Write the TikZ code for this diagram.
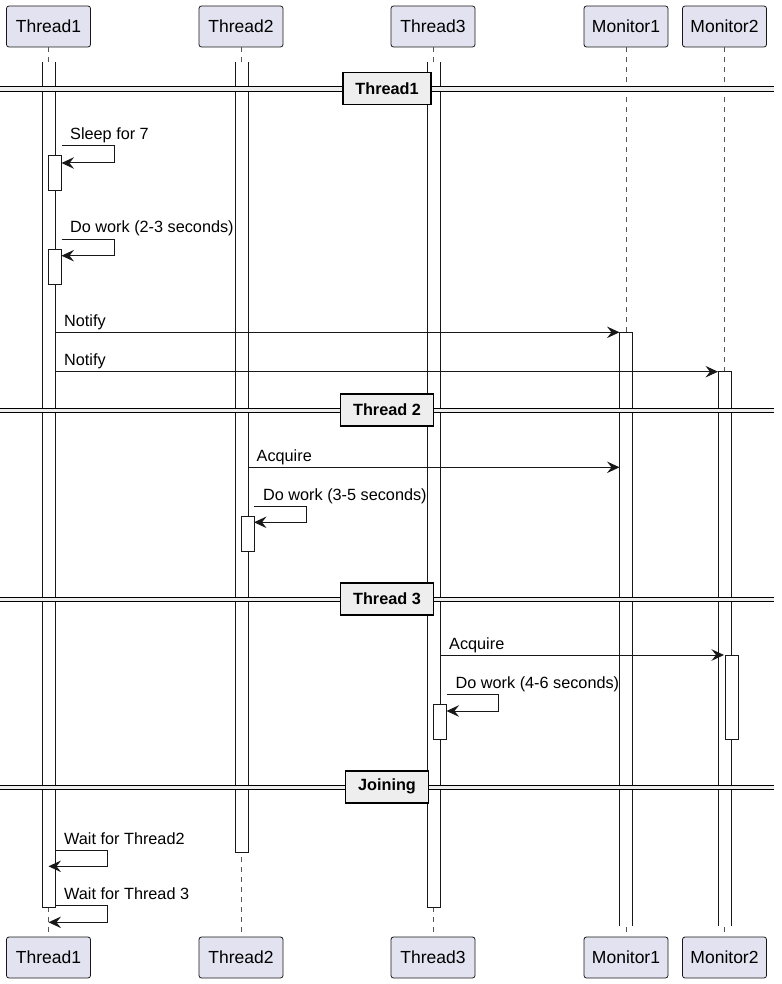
\documentclass[tikz,border=0pt]{standalone}
\usepackage{fontspec}
\setmainfont{Liberation Sans}
\usetikzlibrary{arrows.meta}
\definecolor{ln}{HTML}{181818}
\definecolor{pfill}{HTML}{E2E2F0}
\definecolor{sepfill}{HTML}{EEEEEE}
\definecolor{dashc}{HTML}{555555}
\newcommand{\plsep}[3]{%
  \fill[sepfill] (0,#2-2.3) rectangle (774,#2+2.3);
  \draw[line width=1pt] (0,#2-2.3) -- (774,#2-2.3) (0,#2+2.3) -- (774,#2+2.3);
  \node[sepbox] (#1) at (387,#2-0.6) {#3};}
% bar open at the top: x1, y1, x2, y2
\newcommand{\opentopbar}[4]{%
  \fill[white] (#1,#2) rectangle (#3,#4);
  \draw[actline] (#1,#2) -- (#1,#4) -- (#3,#4) -- (#3,#2);}
% bar open at the bottom
\newcommand{\openbotbar}[4]{%
  \fill[white] (#1,#2) rectangle (#3,#4);
  \draw[actline] (#1,#4) -- (#1,#2) -- (#3,#2) -- (#3,#4);}
\begin{document}
\begin{tikzpicture}[x=1pt,y=-1pt,
  part/.style={draw=ln, fill=pfill, rounded corners=2.5pt, line width=0.8pt,
    minimum width=84pt, minimum height=41pt, inner sep=0pt,
    font=\fontsize{17.5}{20}\selectfont},
  life/.style={draw=dashc, line width=0.8pt, dash pattern=on 5pt off 5pt},
  actbar/.style={draw=ln, fill=white, line width=1pt},
  actline/.style={draw=ln, line width=1pt},
  msg/.style={draw=ln, line width=1pt, -{Stealth[length=12.5pt,width=11.5pt,inset=4.5pt]}},
  lbl/.style={anchor=base west, inner sep=0pt, font=\fontsize{16.25}{19}\selectfont},
  sepbox/.style={draw=black, fill=sepfill, line width=1.6pt, inner xsep=12.5pt,
    inner ysep=0pt, minimum height=32pt, font=\bfseries\fontsize{16.25}{19}\selectfont},
]
\useasboundingbox (0,0) rectangle (781,984);

% participants
\node[part] (t1) at (48.5,26.5) {Thread1};
\node[part] (t2) at (241,26.5) {Thread2};
\node[part] (t3) at (433,26.5) {Thread3};
\node[part] (m1) at (626,26.5) {Monitor1};
\node[part] (m2) at (724.5,26.5) {Monitor2};
\node[part] (t1b) at (48.5,957.5) {Thread1};
\node[part] (t2b) at (241,957.5) {Thread2};
\node[part] (t3b) at (433,957.5) {Thread3};
\node[part] (m1b) at (626,957.5) {Monitor1};
\node[part] (m2b) at (724.5,957.5) {Monitor2};

% lifelines
\draw[life] (t1.south) -- (t1b.north);
\draw[life] (t2.south) -- (t2b.north);
\draw[life] (t3.south) -- (t3b.north);
\draw[life] (m1.south) -- (m1b.north);
\draw[life] (m2.south) -- (m2b.north);

% activation bars
\opentopbar{42}{62}{55}{907}
\opentopbar{235}{62}{248}{852}
\opentopbar{427}{62}{440}{907}
\openbotbar{619.5}{332.3}{632.5}{926}
\openbotbar{718}{371.7}{731}{926}
\draw[actbar] (48.5,156) rectangle (61.5,191);
\draw[actbar] (48.5,249) rectangle (61.5,284);
\draw[actbar] (241,516) rectangle (254,551);
\draw[actbar] (433.5,704) rectangle (446.5,739.5);
\draw[actbar] (725,655) rectangle (738,739.5);

% separators
\plsep{sA}{89.2}{Thread1}
\plsep{sB}{410.3}{Thread 2}
\plsep{sC}{599.5}{Thread 3}
\plsep{sD}{787.3}{Joining}

% messages
\coordinate (a1) at (61.5,146);   \coordinate (a2) at (61.5,163);
\draw[msg] (a1) -- ++(52.5,0) |- (a2);
\node[lbl] (la) at (70,140) {Sleep for 7};

\coordinate (b1) at (61.5,239.3); \coordinate (b2) at (61.5,255.7);
\draw[msg] (b1) -- ++(52.5,0) |- (b2);
\node[lbl] (lb) at (70,233) {Do work (2-3 seconds)};

\coordinate (c1) at (55,332.3);   \coordinate (c2) at (619.5,332.3);
\draw[msg] (c1) -- (c2);
\node[lbl] (lc) at (64,326) {Notify};

\coordinate (d1) at (55,371.7);   \coordinate (d2) at (718,371.7);
\draw[msg] (d1) -- (d2);
\node[lbl] (ld) at (64,365.5) {Notify};

\coordinate (e1) at (248,467.3);  \coordinate (e2) at (619.5,467.3);
\draw[msg] (e1) -- (e2);
\node[lbl] (le) at (256.5,461) {Acquire};

\coordinate (f1) at (254,506.3);  \coordinate (f2) at (254,522.3);
\draw[msg] (f1) -- ++(52.7,0) |- (f2);
\node[lbl] (lf) at (263,500) {Do work (3-5 seconds)};

\coordinate (g1) at (440,655);    \coordinate (g2) at (724,655);
\draw[msg] (g1) -- (g2);
\node[lbl] (lg) at (449,649) {Acquire};

\coordinate (h1) at (446.5,694.3); \coordinate (h2) at (446.5,711);
\draw[msg] (h1) -- ++(52.3,0) |- (h2);
\node[lbl] (lh) at (455.5,688) {Do work (4-6 seconds)};

\coordinate (i1) at (55,850.7);   \coordinate (i2) at (48.5,866.3);
\draw[msg] (i1) -- (107.3,850.7) |- (i2);
\node[lbl] (li) at (64,844.5) {Wait for Thread2};

\coordinate (j1) at (55,905.7);   \coordinate (j2) at (48.5,922.3);
\draw[msg] (j1) -- (107.3,905.7) |- (j2);
\node[lbl] (lj) at (64,899.5) {Wait for Thread 3};
\end{tikzpicture}
\end{document}
